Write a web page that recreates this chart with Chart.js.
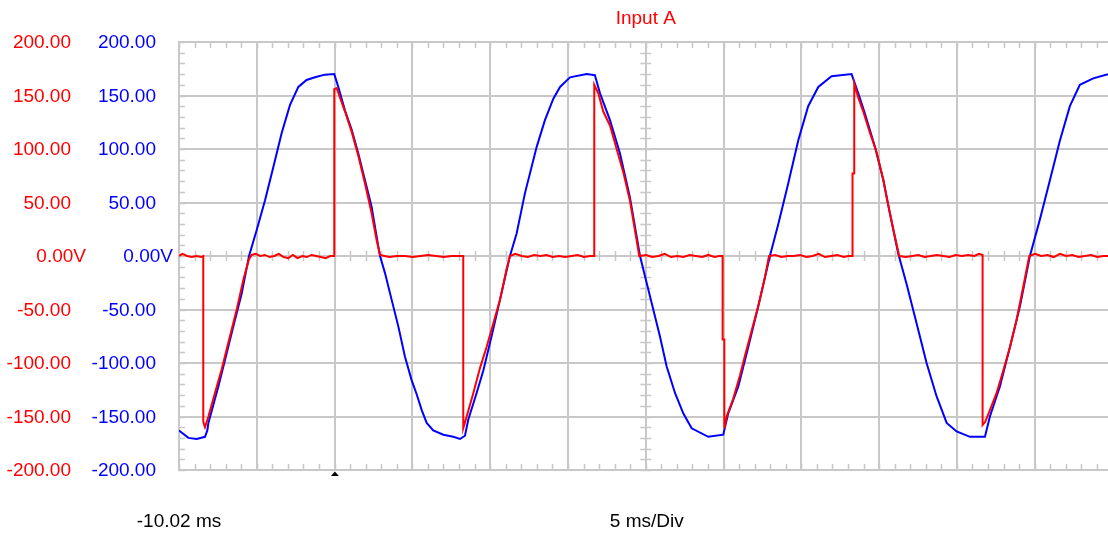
<!DOCTYPE html>
<html>
<head>
<meta charset="utf-8">
<script src="https://cdn.jsdelivr.net/npm/chart.js@4.4.1/dist/chart.umd.min.js"></script>
<style>
  html, body { margin: 0; padding: 0; background: #fff; }
  #wrap { width: 1108px; height: 534px; position: relative; }
</style>
</head>
<body>
<div id="wrap"><canvas id="scope"></canvas></div>
<script>
'use strict';

// time in ms, volts
const gridTimes = [-10.02, -5.02, -0.02, 4.98, 9.98, 14.98, 19.98, 24.98, 29.98, 34.98, 39.98, 44.98];
const voltTicks = [-200, -150, -100, -50, 0, 50, 100, 150, 200];
const startLabel = '-10.02 ms';
const divLabel = '5 ms/Div';
const titleText = 'Input A';
const triggerTime = 0;

const blueTime = [
  -10.02, -9.42, -8.88, -8.35, -8.20, -8.13, -7.49, -7.06, -6.53, -5.99, -5.52, -5.03, -4.49, -3.96,
  -3.42, -2.89, -2.35, -1.82, -1.28, -0.64, -0.04, 0.22, 0.65, 1.08, 1.50, 1.93, 2.36, 2.79, 2.90,
  3.22, 3.65, 4.08, 4.50, 4.93, 5.25, 5.58, 5.90, 6.32, 6.97, 7.61, 8.04, 8.36, 8.57, 9.11, 9.54,
  10.07, 10.61, 11.25, 11.68, 12.22, 12.97, 13.50, 14.04, 14.47, 15.11, 16.18, 16.71, 17.04, 17.68,
  18.32, 18.96, 19.61, 20.36, 20.89, 21.32, 21.86, 22.39, 22.93, 24.00, 24.96, 25.28, 25.93, 26.57,
  27.21, 27.96, 28.50, 29.14, 29.78, 30.42, 31.07, 31.92, 33.21, 33.64, 34.07, 34.71, 35.25, 35.67,
  36.21, 36.74, 37.39, 38.03, 38.67, 39.32, 39.96, 40.82, 41.78, 42.10, 42.74, 43.39, 44.03, 44.67,
  45.31, 45.96, 46.60, 47.24, 47.88, 48.74, 49.69
];
const blueVolt = [
  -163, -170, -171, -169, -163, -156, -122, -97, -66, -35, 0, 24, 52, 83,
  115, 141, 158, 164.5, 167, 169.5, 170, 158, 136, 118, 96, 71, 46, 9, 0,
  -16, -41, -66, -94, -116, -129, -144, -156, -163, -167, -169, -171, -168, -153, -128, -107,
  -75, -41, 0, 21, 59, 102, 127, 147, 158, 167, 170, 169, 152, 127,
  96, 55, 0, -44, -75, -103, -128, -147, -161, -169, -167, -147, -122, -85,
  -47, 0, 30, 68, 108, 140, 158, 168, 170, 152, 133, 102, 71, 40,
  2, -26, -63, -100, -131, -156, -164, -169, -169, -150, -122, -85, -47, 0,
  34, 71, 108, 140, 160, 166, 170
];

const redTime = [
  -10.02, -9.8, -9.5, -9.2, -8.9, -8.6, -8.46, -8.46, -8.35, -8.13, -7.71, -7.28, -6.85, -6.31, -5.88,
  -5.52, -5.35, -5.1, -4.8, -4.5, -4.2, -3.9, -3.6, -3.3, -3.0, -2.7, -2.4, -2.1, -1.8, -1.5, -1.2,
  -0.9, -0.6, -0.3, -0.04, -0.04, 0.11, 0.33, 0.65, 1.08, 1.50, 1.93, 2.36, 2.68, 2.90,
  3.2, 3.5, 4.0, 4.5, 5.0, 5.5, 6.0, 6.5, 7.0, 7.5, 8.0, 8.25, 8.25, 8.47, 8.90, 9.32, 9.75,
  10.18, 10.61, 11.04, 11.25, 11.6, 12.0, 12.4, 12.8, 13.2, 13.6, 14.0, 14.4, 14.8, 15.2, 15.6,
  16.0, 16.4, 16.67, 16.67, 16.93, 17.25, 17.68, 18.11, 18.54, 18.96, 19.39, 19.56,
  20.0, 20.4, 20.8, 21.2, 21.6, 22.0, 22.4, 22.8, 23.2, 23.6, 24.0, 24.4, 24.7, 24.92, 24.92,
  25.03, 25.03, 25.18, 25.61, 26.03, 26.36, 26.78, 27.21, 27.64, 27.90,
  28.3, 28.7, 29.1, 29.5, 29.9, 30.3, 30.7, 31.1, 31.5, 31.9, 32.3, 32.7, 33.0, 33.27, 33.27,
  33.38, 33.38, 33.64, 33.96, 34.39, 34.82, 35.25, 35.46, 35.89, 36.27,
  36.7, 37.1, 37.5, 37.9, 38.3, 38.7, 39.1, 39.5, 39.9, 40.3, 40.7, 41.1, 41.4, 41.63, 41.63,
  41.80, 42.10, 42.53, 42.96, 43.39, 43.81, 44.24, 44.63,
  45.0, 45.4, 45.8, 46.2, 46.6, 47.0, 47.4, 47.8, 48.2, 48.6, 49.0, 49.4, 49.69
];
const redVolt = [
  0, 2, 0, -1, 0, -1, 0, -155, -160, -150, -128, -106, -81, -50, -22,
  -3, 1, 2, 0, 1, -1, 0, 2, -1, -2, 1, -2, 0, -1, 1, 0,
  -1, -2, 0, 0, 156, 157, 148, 135, 116, 94, 68, 40, 15, 1,
  0, -1, 0, 0, -1, 0, 1, 0, -1, 0, 0, 0, -161, -150, -128, -105, -85,
  -63, -41, -12, 0, 2, 0, -1, 1, 0, 1, -1, 0, -1, 0, 1,
  -1, 0, 0, 160, 152, 135, 122, 100, 78, 52, 15, 0,
  1, -1, 0, 2, -1, 0, -1, 1, 0, -1, 1, -1, 0, 0, -78,
  -78, -161, -150, -133, -112, -93, -70, -47, -20, 0,
  1, -1, 0, 0, 1, -1, 0, 2, -1, 0, 1, -1, 0, 0, 77,
  77, 161, 148, 135, 115, 97, 71, 55, 25, 0,
  -1, 0, 1, -1, 0, 1, 0, -1, 1, 0, 1, 0, 2, 1, -158,
  -155, -144, -128, -107, -85, -60, -29, 0,
  2, 0, 1, -1, 2, 0, 1, -1, 0, 1, -1, 0, 0
];

const GRID = '#c8c8c8';
const RED = '#ff0000';
const BLUE = '#0000ff';
const FONT = '19px "Liberation Sans", Arial, sans-serif';

function points(ts, vs) {
  return ts.map((t, i) => ({ x: t, y: vs[i] }));
}

function fmtVolt(v) {
  return v === 0 ? '0.00V' : v.toFixed(2);
}

const scopePlugin = {
  id: 'scope',
  beforeDatasetsDraw(chart) {
    const { ctx, chartArea: a, scales } = chart;
    const x = scales.x, y = scales.yA;
    const xMinor = (gridTimes[1] - gridTimes[0]) / 5;
    const yMinor = (voltTicks[1] - voltTicks[0]) / 5;
    const y0 = y.getPixelForValue(0);
    const xc = x.getPixelForValue(gridTimes[6]);
    ctx.save();
    ctx.strokeStyle = GRID;
    ctx.lineWidth = 1.5;
    ctx.beginPath();
    for (let t = gridTimes[0]; t <= x.max; t += xMinor) {
      const px = Math.round(x.getPixelForValue(t)) + 0.5;
      ctx.moveTo(px, a.top); ctx.lineTo(px, a.top + 6);
      ctx.moveTo(px, a.bottom); ctx.lineTo(px, a.bottom - 6);
      ctx.moveTo(px, y0 - 5); ctx.lineTo(px, y0 + 5);
    }
    for (let v = voltTicks[0]; v <= y.max; v += yMinor) {
      const py = Math.round(y.getPixelForValue(v)) + 0.5;
      ctx.moveTo(a.left, py); ctx.lineTo(a.left + 6, py);
      ctx.moveTo(xc - 5.5, py); ctx.lineTo(xc + 5.5, py);
    }
    ctx.stroke();
    ctx.restore();
  },
  afterDraw(chart) {
    const { ctx, chartArea: a, scales } = chart;
    ctx.save();
    ctx.font = FONT;
    ctx.textBaseline = 'middle';
    ctx.textAlign = 'right';
    const cols = [
      { scale: scales.yA, color: RED, right: 71, zeroRight: 86 },
      { scale: scales.yB, color: BLUE, right: 156, zeroRight: 173 },
    ];
    cols.forEach(c => {
      ctx.fillStyle = c.color;
      voltTicks.forEach(v => {
        const py = c.scale.getPixelForValue(v) + 1;
        ctx.fillText(fmtVolt(v), v === 0 ? c.zeroRight : c.right, py);
      });
    });

    ctx.textAlign = 'center';
    ctx.fillStyle = RED;
    ctx.fillText(titleText, scales.x.getPixelForValue(gridTimes[6]), 19);
    ctx.fillStyle = '#000';
    ctx.fillText(startLabel, scales.x.getPixelForValue(gridTimes[0]), 522);
    ctx.fillText(divLabel, scales.x.getPixelForValue(gridTimes[6]) + 1, 522);

    // trigger marker
    const tx = scales.x.getPixelForValue(triggerTime);
    ctx.beginPath();
    ctx.moveTo(tx, a.bottom + 1.5);
    ctx.lineTo(tx + 4, a.bottom + 6);
    ctx.lineTo(tx - 4, a.bottom + 6);
    ctx.closePath();
    ctx.fill();
    ctx.restore();
  }
};

new Chart(document.getElementById('scope'), {
  type: 'line',
  data: {
    datasets: [
      {
        label: 'Input A',
        data: points(redTime, redVolt),
        yAxisID: 'yA',
        borderColor: RED,
        borderWidth: 2,
        pointRadius: 0,
        tension: 0,
      },
      {
        label: 'Input B',
        data: points(blueTime, blueVolt),
        yAxisID: 'yB',
        borderColor: BLUE,
        borderWidth: 2,
        pointRadius: 0,
        tension: 0,
      },
    ],
  },
  options: {
    responsive: true,
    maintainAspectRatio: false,
    animation: false,
    layout: { padding: { left: 179, top: 42, right: 0, bottom: 64 } },
    plugins: {
      legend: { display: false },
      tooltip: { enabled: false },
      title: { display: false },
    },
    scales: {
      x: {
        type: 'linear',
        min: -10.02,
        max: 49.69,
        afterBuildTicks: s => { s.ticks = gridTimes.map(v => ({ value: v })); },
        afterFit: s => { s.height = 0; },
        ticks: { display: false },
        grid: { color: GRID, lineWidth: 2, drawTicks: false },
        border: { display: true, color: GRID, width: 2 },
      },
      yA: {
        position: 'left',
        min: -200,
        max: 200,
        afterBuildTicks: s => { s.ticks = voltTicks.map(v => ({ value: v })); },
        afterFit: s => { s.width = 0; },
        ticks: { display: false },
        grid: { color: GRID, lineWidth: 2, drawTicks: false },
        border: { display: true, color: GRID, width: 2 },
      },
      yB: {
        position: 'left',
        min: -200,
        max: 200,
        display: false,
      },
    },
  },
  plugins: [scopePlugin],
});
</script>
</body>
</html>
